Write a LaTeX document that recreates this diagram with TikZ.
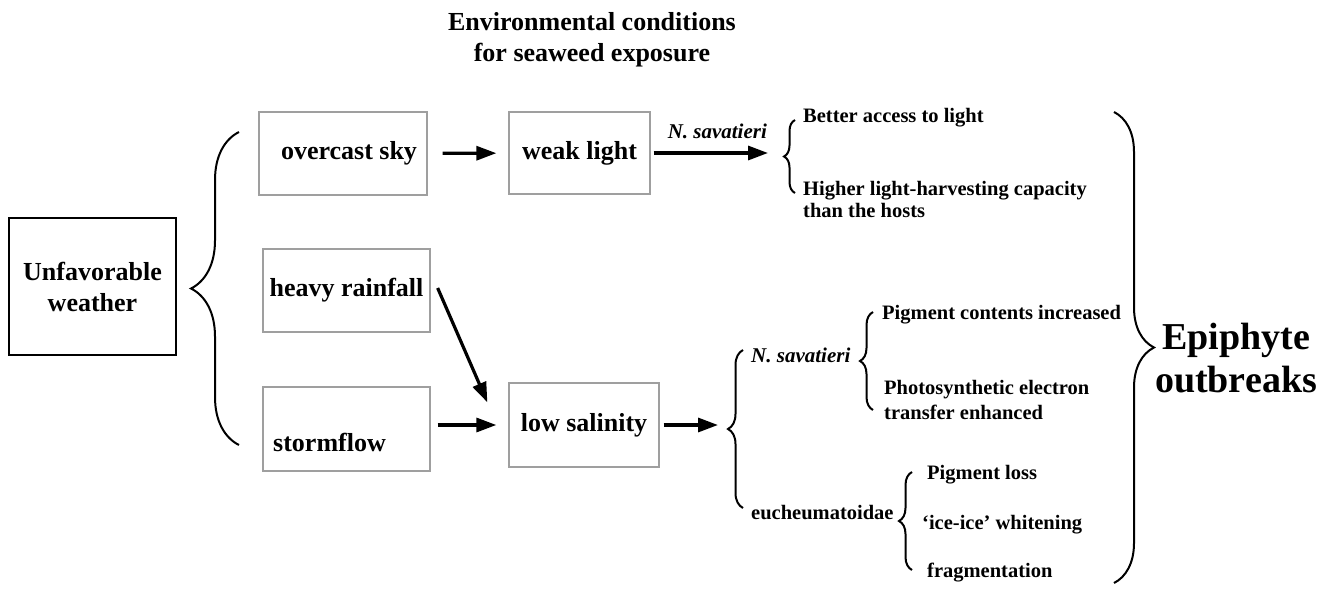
\documentclass[tikz,border=0pt]{standalone}
\usepackage{fontspec}
\setmainfont{Liberation Serif}
\usetikzlibrary{decorations.pathreplacing, arrows.meta, calc}

\begin{document}
\begin{tikzpicture}[
    x=1pt, y=-1pt,
    >={Triangle[length=20pt, width=14pt]},
    every node/.style={inner sep=0pt, font=\bfseries\fontsize{20.5}{24}\selectfont},
    box/.style={draw=gray!75, line width=1.3pt, font=\bfseries\fontsize{26}{31}\selectfont},
    flow/.style={->, line width=3.2pt},
    curly/.style={decorate, line width=2pt, decoration={brace, amplitude=#1}}
]
\useasboundingbox (0,0) rectangle (1338,589);

% Title
\node[align=center, font=\bfseries\fontsize{26}{31}\selectfont] (title) at (592,40)
    {Environmental conditions\\for seaweed exposure};

% Boxes
\node[box, draw=black, line width=1.7pt, align=center, minimum width=167pt, minimum height=137pt]
    (unf) at (92.5,286.5) {Unfavorable\\weather};
\node[box, minimum width=168pt, minimum height=83pt] (ovc) at (343,153.5) {\hspace*{12pt}overcast sky};
\node[box, minimum width=167pt, minimum height=83pt] (heavy) at (346.5,290.5) {heavy rainfall};
\node[box, minimum width=167pt, minimum height=84pt, text height=44pt, text depth=0pt]
    (storm) at (346.5,429) {stormflow\hspace*{34pt}};
\node[box, minimum width=141pt, minimum height=82pt] (weak) at (579.5,153) {weak light};
\node[box, minimum width=150pt, minimum height=84pt] (low) at (584,425) {low salinity};

% Brace tips
\coordinate (tipA) at (784,153);
\coordinate (tipB) at (728,425);

% Arrows
\draw[flow, shorten <=15pt, shorten >=12pt] (ovc) -- (weak);
\draw[flow, shorten <=3pt, shorten >=16pt] (weak) -- (tipA)
    node[midway, above=13pt, font=\bfseries\itshape\fontsize{21}{24}\selectfont] (nsavA) {N. savatieri};
\draw[flow] ($(heavy.east)+(7,-2.5)$) -- ($(low.north west)+(-21,20)$);
\draw[flow, shorten <=7pt, shorten >=12pt] (storm.east |- low.west) -- (low.west);
\draw[flow, shorten <=4pt, shorten >=10pt] (low) -- (tipB);

% Braces
\draw[curly=48pt] (239,445) -- (239,132);
\draw[curly=11pt] (795,193) -- (795,120);
\draw[curly=15pt] (743,508) -- (743,350);
\draw[curly=13pt] (873,410) -- (873,312);
\draw[curly=13pt] (912,570) -- (912,472);
\draw[curly=40pt] (1114,112) -- (1114,583);

% Effects
\node[anchor=west] (better) at (803,118) {Better access to light};
\node[anchor=west, align=left, font=\bfseries\fontsize{20.5}{22}\selectfont] (higher) at (803,199)
    {Higher light-harvesting capacity\\than the hosts};
\node[anchor=west, font=\bfseries\itshape\fontsize{21}{24}\selectfont] (nsavB) at (751,355) {N. savatieri};
\node[anchor=west] (euch) at (751,513) {eucheumatoidae};
\node[anchor=west] (pigc) at (882,315) {Pigment contents increased};
\node[anchor=west, align=left, font=\bfseries\fontsize{20.5}{25}\selectfont] (photo) at (884,399.5)
    {Photosynthetic electron\\transfer enhanced};
\node[anchor=west] (pigl) at (927,475) {Pigment loss};
\node[anchor=west] (ice) at (922,525) {`ice-ice' whitening};
\node[anchor=west] (frag) at (927,573) {fragmentation};

\node[align=center, font=\bfseries\fontsize{38}{43}\selectfont] (epi) at (1236,358) {Epiphyte\\outbreaks};

\end{tikzpicture}
\end{document}
